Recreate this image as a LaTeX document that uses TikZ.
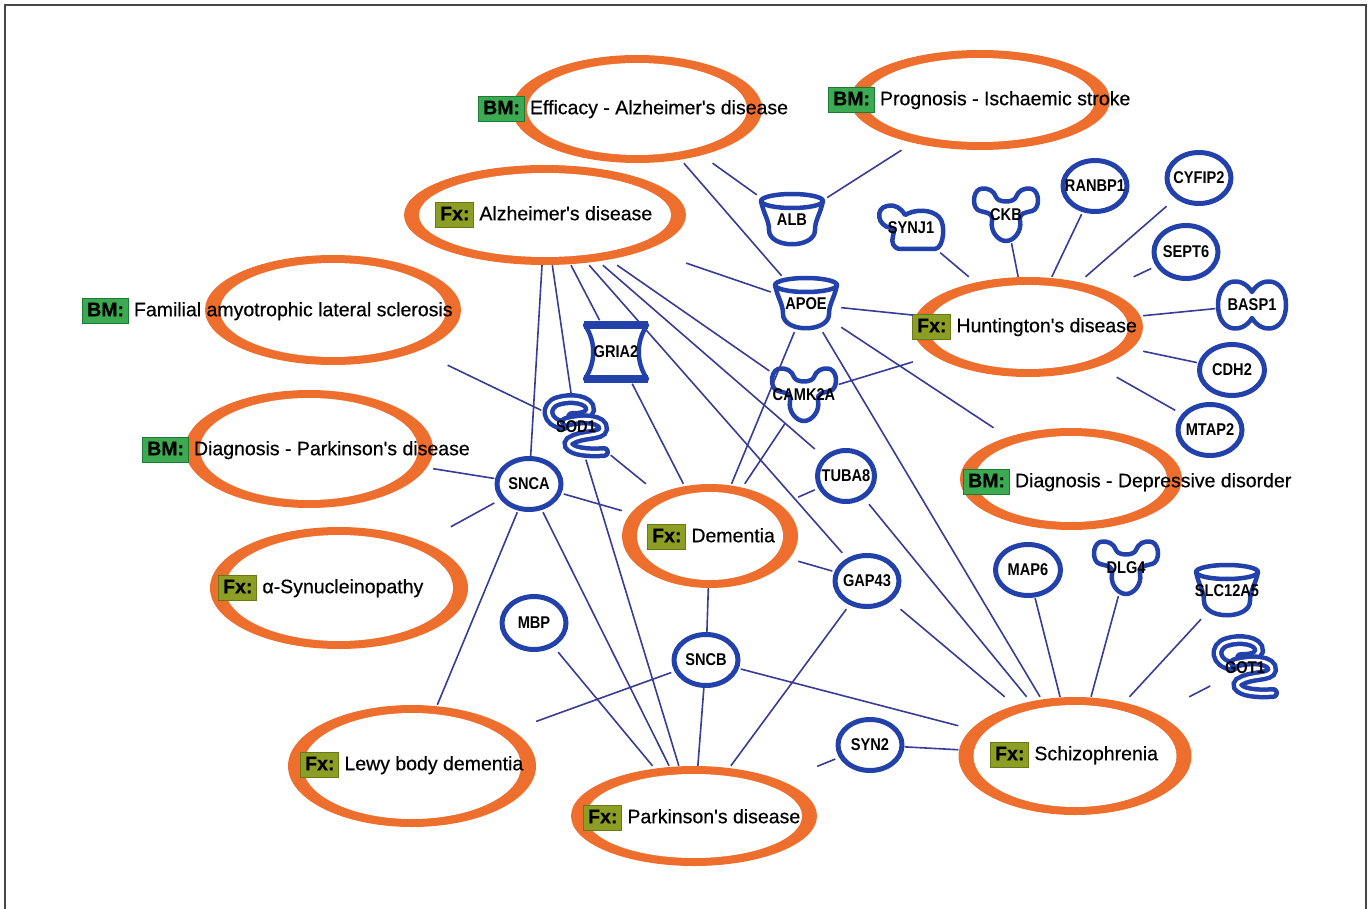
\documentclass[tikz,border=0pt]{standalone}
\usepackage{fontspec}
\setmainfont{Liberation Sans}
\newfontfamily\labelfont[FakeBold=0.5]{Liberation Sans}
\newfontfamily\genefont[FakeStretch=0.86]{Liberation Sans}
\usetikzlibrary{calc}

\definecolor{ringorange}{RGB}{238,110,45}
\definecolor{geneblue}{RGB}{35,65,170}
\definecolor{linkblue}{RGB}{55,60,150}
\definecolor{bmgreen}{RGB}{60,170,80}
\definecolor{bmedge}{RGB}{30,120,55}
\definecolor{fxolive}{RGB}{140,158,35}
\definecolor{fxedge}{RGB}{105,120,25}
\definecolor{framegray}{RGB}{70,70,70}

\setlength\fboxsep{4pt}
\setlength\fboxrule{1pt}
\newcommand\tagstrut{\rule[-3pt]{0pt}{15pt}}
\newcommand\bmtag{\fcolorbox{bmedge}{bmgreen}{\tagstrut\textbf{BM:}}\hspace{5pt}}
\newcommand\fxtag{\fcolorbox{fxedge}{fxolive}{\tagstrut\textbf{Fx:}}\hspace{5pt}}

\tikzset{
  disease/.style={rectangle, inner sep=0pt, path picture={
      \fill[ringorange] let \p1=(path picture bounding box.center), \p2=(path picture bounding box.north east)
        in (\p1) ellipse [x radius={\x2-(\x1)}, y radius={\y2-(\y1)}];
      \fill[white] let \p1=(path picture bounding box.center), \p2=(path picture bounding box.north east)
        in (\p1) ellipse [x radius={\x2-(\x1)-15pt}, y radius={\y2-(\y1)-8pt}];
    }},
  taglabel/.style={anchor=west, inner sep=0pt, font=\labelfont\fontsize{19.5}{20}\selectfont},
  gene/.style={rectangle, inner sep=0pt, minimum width=69pt, minimum height=56pt,
    font=\genefont\bfseries\fontsize{17}{17}\selectfont},
  ring/.style={gene, path picture={
      \draw[geneblue, line width=5pt] let \p1=(path picture bounding box.center), \p2=(path picture bounding box.north east)
        in (\p1) ellipse [x radius={\x2-(\x1)-2.5pt}, y radius={\y2-(\y1)-2.5pt}];
    }},
  geneline/.style={draw=geneblue, line width=4.5pt, line join=round},
  ribbon/.style={draw=geneblue, line width=4.5pt, double=white, double distance=3pt, line cap=round},
  link/.style={draw=linkblue, line width=1.6pt},
  cup/.pic={
    \draw[geneline] (-31,-19) .. controls (-28,-5) and (-23,0) .. (-23,10) .. controls (-23,29) and (23,29) .. (23,10) .. controls (23,0) and (28,-5) .. (31,-19);
    \draw[geneline] (0,-19) ellipse [x radius=31, y radius=7];
  },
  kinase/.pic={
    \draw[geneline] (-26,-26) .. controls (-18,-28) and (-12,-24) .. (-10,-18) .. controls (-8,-12) and (8,-12) .. (10,-18)
      .. controls (12,-24) and (18,-28) .. (26,-26) .. controls (34,-23) and (34,-6) .. (26,-4)
      .. controls (18,-2) and (13,-2) .. (14,6) .. controls (16,16) and (8,26) .. (0,26)
      .. controls (-8,26) and (-16,16) .. (-14,6) .. controls (-13,-2) and (-18,-2) .. (-26,-4)
      .. controls (-34,-6) and (-34,-23) .. (-26,-26) -- cycle;
  },
  channel/.pic={
    \draw[geneline] (-31,-27) -- (31,-27) .. controls (20,-10) and (20,10) .. (31,27) -- (-31,27) .. controls (-20,10) and (-20,-10) .. (-31,-27) -- cycle;
    \draw[geneblue, line width=8pt] (-32,-27) -- (32,-27) (-32,27) -- (32,27);
  },
  enzyme/.pic={
    \draw[ribbon] (-12,-2) .. controls (-31,-4) and (-32,-22) .. (-18,-26) .. controls (-6,-30) and (15,-28) .. (14,-17) .. controls (13,-11) and (4,-10) .. (-4,-10);
    \draw[ribbon] (-10,-5) .. controls (8,-10) and (28,-8) .. (27,2) .. controls (26,10) and (6,6) .. (-6,14) .. controls (-12,20) and (0,27) .. (28,25);
  },
  phosphatase/.pic={
    \draw[geneline] (-20,0) .. controls (-34,-2) and (-36,-20) .. (-24,-22) .. controls (-16,-24) and (-10,-20) .. (-6,-13)
      .. controls (4,-19) and (20,-19) .. (28,-11) .. controls (35,-4) and (33,20) .. (24,21) -- (-10,21)
      .. controls (-18,21) and (-20,14) .. (-18,8) .. controls (-17,4) and (-17,2) .. (-20,0) -- cycle;
  },
  peanut/.pic={
    \draw[geneline] (0,-13) .. controls (10,-30) and (34,-27) .. (34,0) .. controls (34,27) and (10,30) .. (0,13)
      .. controls (-10,30) and (-34,27) .. (-34,0) .. controls (-34,-27) and (-10,-30) .. (0,-13) -- cycle;
  },
}

\begin{document}
\begin{tikzpicture}[x=1pt, y=-1pt]
    \useasboundingbox (0,0) rectangle (1371,909);
    % frame
    \draw[framegray, line width=2pt] (5,920) -- (5,5) -- (1366,5) -- (1366,920);
    % disease rings
    \node[disease, minimum width=250pt, minimum height=108pt] (effad) at (637,109) {};
    \node[disease, minimum width=260pt, minimum height=100pt] (progst) at (980,100) {};
    \node[disease, minimum width=282pt, minimum height=100pt] (fxad) at (545,215) {};
    \node[disease, minimum width=256pt, minimum height=110pt] (fals) at (333,310) {};
    \node[disease, minimum width=248pt, minimum height=118pt] (diagpd) at (309,449) {};
    \node[disease, minimum width=258pt, minimum height=122pt] (synuc) at (339,588) {};
    \node[disease, minimum width=248pt, minimum height=122pt] (lewy) at (412,766) {};
    \node[disease, minimum width=246pt, minimum height=100pt] (pd) at (694,816) {};
    \node[disease, minimum width=176pt, minimum height=104pt] (dementia) at (710,536) {};
    \node[disease, minimum width=230pt, minimum height=100pt] (hd) at (1028,327) {};
    \node[disease, minimum width=222pt, minimum height=102pt] (depr) at (1071,479) {};
    \node[disease, minimum width=233pt, minimum height=118pt] (schizo) at (1075,756) {};
    % disease labels
    \node[taglabel] (effad-tag) at (478,109) {\bmtag Efficacy - Alzheimer's disease};
    \node[taglabel] (progst-tag) at (828,100) {\bmtag Prognosis - Ischaemic stroke};
    \node[taglabel] (fxad-tag) at (435,215) {\fxtag Alzheimer's disease};
    \node[taglabel] (fals-tag) at (82,311) {\bmtag Familial amyotrophic lateral sclerosis};
    \node[taglabel] (diagpd-tag) at (142,450) {\bmtag Diagnosis - Parkinson's disease};
    \node[taglabel] (synuc-tag) at (218,588) {\fxtag α-Synucleinopathy};
    \node[taglabel] (lewy-tag) at (300,765) {\fxtag Lewy body dementia};
    \node[taglabel] (pd-tag) at (583,818) {\fxtag Parkinson's disease};
    \node[taglabel] (dementia-tag) at (647,537) {\fxtag Dementia};
    \node[taglabel] (hd-tag) at (912,327) {\fxtag Huntington's disease};
    \node[taglabel] (depr-tag) at (963,482) {\bmtag Diagnosis - Depressive disorder};
    \node[taglabel] (schizo-tag) at (990,755) {\fxtag Schizophrenia};
    % round genes
    \node[ring] (snca) at (529,484) {SNCA};
    \node[ring, minimum width=62pt] (tuba8) at (846,476) {TUBA8};
    \node[ring] (gap43) at (867,581) {GAP43};
    \node[ring] (sncb) at (706,660) {SNCB};
    \node[ring, minimum height=58pt] (mbp) at (534,623) {MBP};
    \node[ring] (syn2) at (870,745) {SYN2};
    \node[ring, minimum width=70pt] (map6) at (1028,570) {MAP6};
    \node[ring] (ranbp1) at (1095,186) {RANBP1};
    \node[ring] (cyfip2) at (1199,178) {CYFIP2};
    \node[ring, minimum height=58pt] (sept6) at (1186,252) {SEPT6};
    \node[ring, minimum width=70pt] (cdh2) at (1232,370) {CDH2};
    \node[ring] (mtap2) at (1210,430) {MTAP2};
    % shaped genes
    \pic at (792,220) {cup};
    \node[gene, minimum width=70pt] (alb) at (792,220) {ALB};
    \pic at (806,304) {cup};
    \node[gene, minimum width=70pt] (apoe) at (806,304) {APOE};
    \pic at (1227,591) {cup};
    \node[gene, minimum width=70pt] (slc12a5) at (1227,591) {SLC12A5};
    \pic at (616,352) {channel};
    \node[gene, minimum width=70pt, minimum height=63pt] (gria2) at (616,352) {GRIA2};
    \pic at (576,427) {enzyme};
    \node[gene, minimum height=65pt] (sod1) at (576,427) {SOD1};
    \pic at (1245,668) {enzyme};
    \node[gene, minimum height=65pt] (got1) at (1245,668) {GOT1};
    \pic at (804,395) {kinase};
    \node[gene] (camk2a) at (804,395) {CAMK2A};
    \pic at (1006,215) {kinase};
    \node[gene] (ckb) at (1006,215) {CKB};
    \pic at (1126,568) {kinase};
    \node[gene] (dlg4) at (1126,568) {DLG4};
    \pic at (911,228) {phosphatase};
    \node[gene, minimum height=49pt] (synj1) at (911,228) {SYNJ1};
    \pic at (1252,305) {peanut};
    \node[gene, minimum width=73pt] (basp1) at (1252,305) {BASP1};
    % links: Alzheimer's disease
    \draw[link] (effad) -- (alb);
    \draw[link] (effad) -- (apoe);
    \draw[link] (progst) -- (alb);
    \draw[link] (fxad) -- (apoe);
    \draw[link] (fxad) -- (snca);
    \draw[link] (fxad) -- (sod1);
    \draw[link] (fxad) -- (gria2);
    \draw[link] (fxad) -- (gap43);
    \draw[link] (fxad) -- (tuba8);
    \draw[link] (fxad) -- (camk2a);
    % links: APOE and CAMK2A
    \draw[link] (apoe) -- (hd);
    \draw[link] (apoe) -- (depr);
    \draw[link] (apoe) -- (schizo);
    \draw[link] (apoe) -- (dementia);
    \draw[link] (camk2a) -- (hd);
    \draw[link] (camk2a) -- (dementia);
    % links: dementia and Parkinson's disease
    \draw[link] (gria2) -- (dementia);
    \draw[link] (sod1) -- (dementia);
    \draw[link] (sod1) -- (fals);
    \draw[link] (sod1) -- (pd);
    \draw[link] (snca) -- (dementia);
    \draw[link] (snca) -- (diagpd);
    \draw[link] (snca) -- (synuc);
    \draw[link] (snca) -- (lewy);
    \draw[link] (snca) -- (pd);
    \draw[link] (tuba8) -- (dementia);
    \draw[link] (gap43) -- (dementia);
    \draw[link] (gap43) -- (pd);
    \draw[link] (sncb) -- (dementia);
    \draw[link] (sncb) -- (pd);
    \draw[link] (sncb) -- (lewy);
    \draw[link] (mbp) -- (pd);
    \draw[link] (syn2) -- (pd);
    % links: schizophrenia
    \draw[link] (tuba8) -- (schizo);
    \draw[link] (gap43) -- (schizo);
    \draw[link] (sncb) -- (schizo);
    \draw[link] (syn2) -- (schizo);
    \draw[link] (map6) -- (schizo);
    \draw[link] (dlg4) -- (schizo);
    \draw[link] (slc12a5) -- (schizo);
    \draw[link] (got1) -- (schizo);
    % links: Huntington's disease
    \draw[link] (synj1) -- (hd);
    \draw[link] (ckb) -- (hd);
    \draw[link] (ranbp1) -- (hd);
    \draw[link] (cyfip2) -- (hd);
    \draw[link] (sept6) -- (hd);
    \draw[link] (basp1) -- (hd);
    \draw[link] (cdh2) -- (hd);
    \draw[link] (mtap2) -- (hd);
\end{tikzpicture}
\end{document}
